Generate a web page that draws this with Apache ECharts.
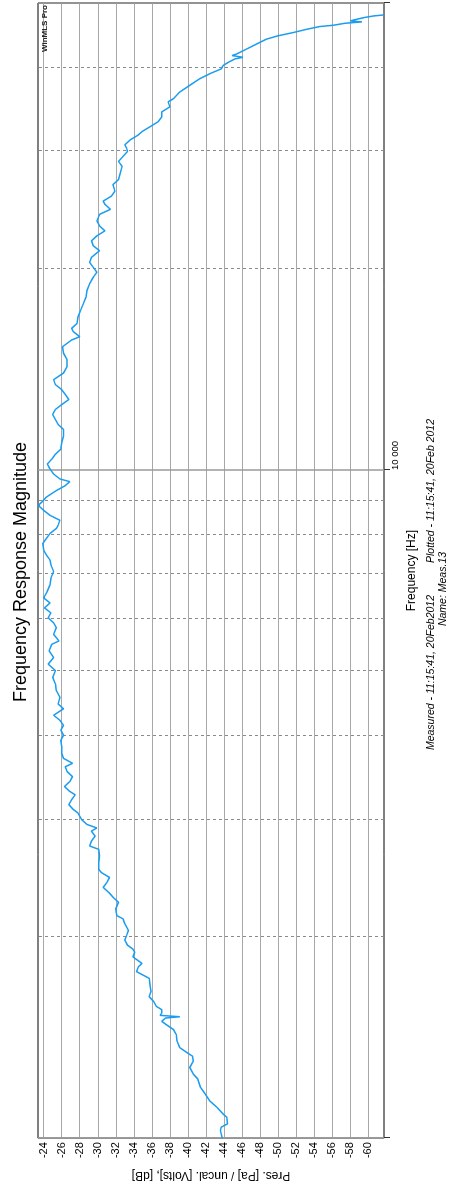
<!DOCTYPE html>
<html>
<head>
<meta charset="utf-8">
<title>Frequency Response Magnitude</title>
<script src="https://cdn.jsdelivr.net/npm/echarts@6/dist/echarts.min.js"></script>
<style>
  html, body { margin: 0; padding: 0; background: #fff; overflow: hidden; }
  body { width: 455px; height: 1189px; position: relative; }
  /* the chart is laid out landscape and turned a quarter turn counter-clockwise */
  #chart {
    position: absolute; left: 0; top: 0;
    width: 1189px; height: 455px;
    transform-origin: 0 0;
    transform: translateY(1189px) rotate(-90deg);
  }
</style>
</head>
<body>
<div id="chart"></div>
<script>
// Measured magnitude: frequency (Hz) and level (dB)
const freqHz = [
  1000, 1027, 1039, 1051, 1075, 1087, 1113, 1138, 1165, 1191,
  1226, 1247, 1276, 1305, 1327, 1343, 1366, 1397, 1430, 1454,
  1479, 1496, 1513, 1520, 1527, 1539, 1557, 1575, 1602, 1629,
  1658, 1696, 1735, 1755, 1775, 1805, 1826, 1847, 1868, 1900,
  1918, 1945, 1978, 2012, 2047, 2059, 2094, 2130, 2154, 2204,
  2255, 2294, 2334, 2373, 2414, 2456, 2498, 2527, 2585, 2645,
  2706, 2737, 2784, 2832, 2881, 2913, 2948, 2999, 3067, 3103,
  3157, 3211, 3266, 3303, 3360, 3418, 3477, 3537, 3598, 3639,
  3702, 3766, 3853, 3942, 4010, 4080, 4150, 4222, 4295, 4393,
  4467, 4571, 4677, 4783, 4894, 5008, 5122, 5241, 5362, 5485,
  5549, 5676, 5807, 5907, 6009, 6113, 6218, 6325, 6435, 6584,
  6734, 6890, 7050, 7211, 7335, 7462, 7590, 7766, 7900, 8036,
  8175, 8268, 8410, 8555, 8702, 8852, 8956, 9110, 9317, 9478,
  9608, 9697, 9864, 10034, 10207, 10383, 10563, 10744, 10993, 11244,
  11504, 11703, 11905, 12111, 12320, 12531, 12751, 12970, 13194, 13422,
  13653, 13970, 14289, 14620, 14958, 15299, 15653, 15831, 16104, 16292,
  16573, 16951, 17343, 17745, 18150, 18571, 19001, 19435, 19770, 20111,
  20458, 20811, 21293, 21660, 22033, 22413, 22799, 23193, 23592, 24139,
  24555, 24979, 25262, 25698, 26141, 26747, 27208, 27829, 28473, 28965,
  29464, 29973, 30313, 30667, 31196, 31734, 32094, 32648, 33210, 33784,
  34366, 34958, 35561, 35964, 36797, 37649, 38507, 39171, 39847, 40313,
  40770, 41232, 41473, 41715, 41943, 42658, 43394, 44142, 44658, 45165,
  45677, 46101, 46306, 46624, 46848, 47008, 47266, 47541, 47818, 47982
];
const levelDb = [
  -43.8, -43.6, -43.7, -44.4, -44.3, -43.9, -43.2, -42.4, -41.9, -41.4,
  -41.1, -40.6, -40.2, -40.6, -40.5, -39.9, -39.1, -38.8, -38.7, -38.4,
  -37.6, -37.1, -37.5, -39.1, -36.9, -37.1, -37.1, -36.5, -36.2, -35.7,
  -35.9, -35.8, -35.7, -35.0, -34.3, -34.5, -34.9, -34.4, -33.9, -34.1,
  -33.9, -33.3, -33.0, -33.2, -33.4, -33.6, -33.0, -32.8, -32.1, -32.0,
  -32.3, -31.7, -31.2, -30.6, -31.0, -31.3, -30.4, -30.1, -30.1, -30.2,
  -30.1, -29.1, -29.3, -29.7, -29.3, -29.9, -28.8, -28.2, -27.8, -27.3,
  -26.8, -27.1, -27.5, -26.9, -26.3, -26.9, -27.2, -26.6, -26.4, -27.2,
  -26.2, -26.0, -26.0, -25.9, -26.2, -25.9, -26.2, -25.8, -25.1, -26.2,
  -25.6, -25.8, -25.4, -25.3, -25.0, -25.3, -24.5, -25.1, -24.6, -24.9,
  -25.7, -25.1, -25.4, -25.1, -24.5, -24.8, -24.1, -24.7, -24.0, -24.4,
  -24.7, -24.8, -25.1, -24.8, -24.7, -24.3, -24.0, -23.9, -24.3, -24.7,
  -25.4, -25.6, -25.8, -24.7, -24.0, -23.4, -23.8, -24.3, -25.4, -26.4,
  -26.9, -25.8, -25.1, -24.7, -24.4, -24.9, -25.3, -25.9, -26.0, -26.2,
  -26.2, -25.6, -25.3, -25.0, -25.3, -26.0, -26.8, -26.4, -26.0, -25.3,
  -25.1, -26.2, -26.6, -26.6, -26.2, -26.1, -27.1, -28.0, -27.3, -27.1,
  -27.7, -27.8, -28.1, -28.4, -28.7, -28.8, -29.1, -29.5, -29.9, -29.5,
  -29.1, -29.3, -30.2, -29.5, -29.3, -29.9, -30.8, -30.2, -29.9, -30.2,
  -31.4, -30.8, -30.6, -31.5, -31.9, -31.7, -32.3, -32.5, -32.7, -32.3,
  -32.8, -33.3, -33.2, -33.0, -33.6, -34.5, -34.9, -35.8, -36.7, -37.1,
  -37.1, -38.0, -37.8, -38.4, -39.1, -40.2, -41.3, -42.4, -43.7, -43.9,
  -44.5, -45.2, -46.1, -44.9, -45.4, -46.5, -47.6, -48.7, -50.0, -51.7,
  -53.2, -54.6, -56.1, -57.4, -59.3, -58.0, -58.7, -59.5, -60.6, -61.7
];

// Level axis ticks (dB) and frequency axis range / dashed sub-decade lines (Hz)
const levelTicks = [-24, -26, -28, -30, -32, -34, -36, -38, -40, -42,
                    -44, -46, -48, -50, -52, -54, -56, -58, -60];
const levelRange = [-61.75, -23.37];
const freqRange = [1000, 50000];
const freqSubLines = [2000, 3000, 4000, 5000, 6000, 7000, 8000, 9000,
                      20000, 30000, 40000];
const freqLabelled = [10000];

const FONT = '"Liberation Sans", Arial, sans-serif';

const chart = echarts.init(document.getElementById('chart'), null, {
  width: 1189, height: 455, renderer: 'canvas'
});

chart.setOption({
  animation: false,
  backgroundColor: '#ffffff',
  textStyle: { fontFamily: FONT },
  grid: {
    left: 46, right: 1, top: 38, bottom: 71,
    show: true, borderColor: '#000', borderWidth: 1, backgroundColor: '#fff'
  },
  xAxis: {
    type: 'log',
    logBase: 10,
    min: freqRange[0],
    max: freqRange[1],
    name: 'Frequency [Hz]',
    nameLocation: 'middle',
    nameGap: 22,
    nameTextStyle: { fontFamily: FONT, fontSize: 12, color: '#000' },
    axisLine: { show: false },
    axisTick: { show: true, length: 6, lineStyle: { color: '#333', width: 1 } },
    axisLabel: {
      fontFamily: FONT, fontSize: 9.5, color: '#000', margin: 6,
      align: 'left',
      formatter: v => freqLabelled.indexOf(Math.round(v)) >= 0
        ? String(Math.round(v)).replace(/(\d)(?=(\d{3})+$)/g, '$1 ')
        : ''
    },
    splitLine: { show: true, lineStyle: { color: '#9a9a9a', width: 1.5 } }
  },
  yAxis: {
    type: 'value',
    min: levelRange[0],
    max: levelRange[1],
    name: 'Pres. [Pa] / uncal. [Volts], [dB]',
    nameLocation: 'middle',
    nameGap: 27,
    nameTextStyle: { fontFamily: FONT, fontSize: 12, color: '#000' },
    axisLine: { show: false },
    axisTick: { show: false, customValues: levelTicks },
    axisLabel: {
      fontFamily: FONT, fontSize: 11, color: '#000', margin: 4,
      customValues: levelTicks,
      formatter: v => String(v)
    },
    splitLine: { show: true, lineStyle: { color: '#a8a8a8', width: 1.2 } }
  },
  graphic: [
    {
      type: 'text', x: 617, y: 21,
      style: {
        text: 'Frequency Response Magnitude', fill: '#000',
        font: '18px ' + FONT, textAlign: 'center', textVerticalAlign: 'middle'
      }
    },
    {
      type: 'text', x: 1184, y: 44.5, z: 10,
      style: {
        text: 'WinMLS Pro', fill: '#222',
        font: 'bold 8px ' + FONT, textAlign: 'right', textVerticalAlign: 'middle'
      }
    },
    {
      type: 'text', x: 594, y: 431,
      style: {
        text: 'Measured - 11:15:41, 20Feb2012', fill: '#000',
        font: 'italic 10.5px ' + FONT, textAlign: 'right', textVerticalAlign: 'middle'
      }
    },
    {
      type: 'text', x: 626, y: 431,
      style: {
        text: 'Plotted - 11:15:41, 20Feb 2012', fill: '#000',
        font: 'italic 10.5px ' + FONT, textAlign: 'left', textVerticalAlign: 'middle'
      }
    },
    {
      type: 'text', x: 600, y: 443,
      style: {
        text: 'Name: Meas.13', fill: '#000',
        font: 'italic 10.5px ' + FONT, textAlign: 'center', textVerticalAlign: 'middle'
      }
    }
  ],
  series: [
    {
      type: 'line',
      data: freqHz.map((f, i) => [f, levelDb[i]]),
      showSymbol: false,
      symbol: 'none',
      clip: true,
      lineStyle: { color: '#1a9cf0', width: 1.5 },
      z: 3,
      markLine: {
        silent: true,
        symbol: ['none', 'none'],
        z: 1,
        label: { show: false },
        lineStyle: { color: '#8a8a8a', width: 1, type: [3, 3] },
        data: freqSubLines.map(v => ({ xAxis: v }))
      }
    }
  ]
});
</script>
</body>
</html>
